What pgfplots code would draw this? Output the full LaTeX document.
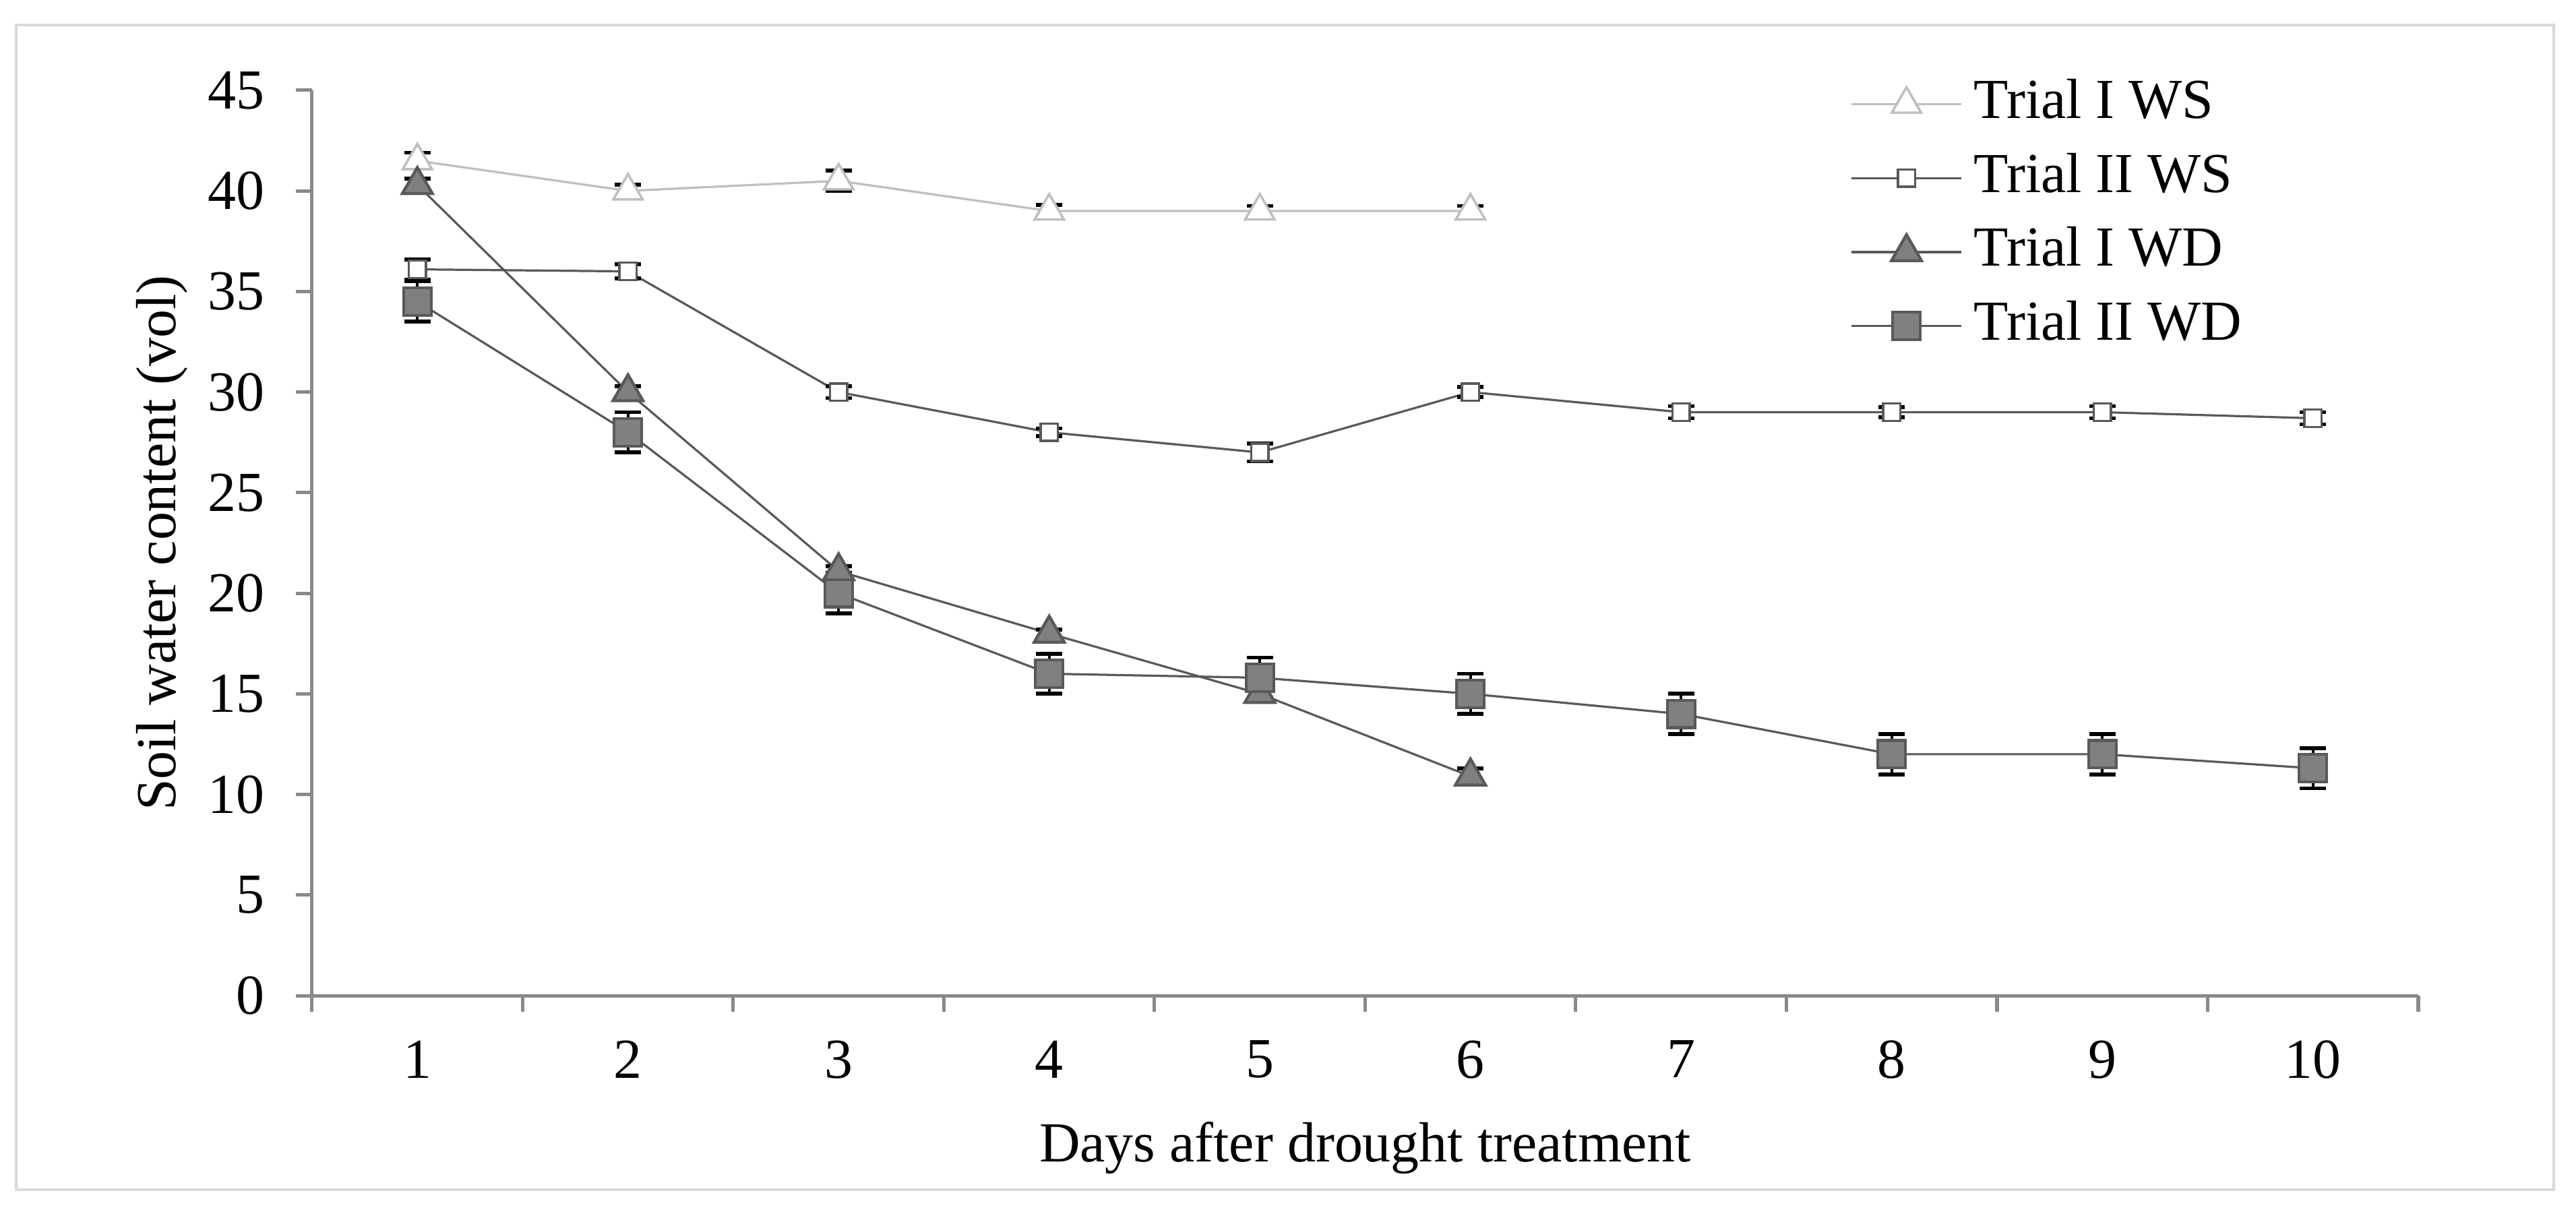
\documentclass[border=0pt]{standalone}
\usepackage{fontspec}
\setmainfont{Liberation Serif}
\usepackage{pgfplots}
\pgfplotsset{compat=1.18}

\definecolor{axisgray}{RGB}{137,137,137}
\definecolor{framegray}{RGB}{217,217,217}
\definecolor{lightline}{RGB}{191,191,191}
\definecolor{darkline}{RGB}{89,89,89}
\definecolor{markfill}{RGB}{128,128,128}

\newcommand{\chartfont}{\fontsize{11.7}{14}\selectfont}

\begin{document}
\begin{tikzpicture}
  \useasboundingbox (0,0) rectangle (533.05pt,251.05pt);
  \draw[framegray, line width=0.45pt] (3.35pt,4.88pt) rectangle (528.45pt,245.89pt);

  \begin{axis}[
      at={(64.57pt,45.05pt)}, anchor=south west,
      scale only axis,
      width=435.84pt, height=187.31pt,
      xmin=0.5, xmax=10.5, ymin=0, ymax=45,
      axis x line*=bottom, axis y line*=left,
      axis line style={axisgray, line width=0.7pt},
      tick align=outside,
      major tick length=3.3pt,
      tick style={axisgray, line width=0.7pt},
      xtick={0.5,1.5,...,10.5},
      xticklabels={1,2,3,4,5,6,7,8,9,10},
      x tick label as interval,
      ytick={0,5,...,45},
      /pgf/number format/assume math mode=true,
      tick label style={font=\chartfont, black},
      xticklabel style={yshift=-2.5pt},
      yticklabel style={xshift=-3pt},
      label style={font=\chartfont},
      xlabel={Days after drought treatment},
      ylabel={Soil water content (vol)},
      xlabel style={at={(axis description cs:0.5,-0.168)}, anchor=center},
      ylabel style={at={(axis description cs:-0.0714,0.5)}, anchor=center},
      clip=false,
      legend cell align=left,
      legend image code/.code={\draw[mark repeat=2,mark phase=2] plot coordinates {(0pt,0pt) (11.35pt,0pt) (22.7pt,0pt)};},
      legend style={at={(0.730,1.013)}, anchor=north west, draw=none, fill=none,
        font=\chartfont, row sep=5.1pt, column sep=2.4pt, inner sep=0pt,
        nodes={inner sep=0pt, text height=8pt, text depth=2.2pt}},
      error bars/y dir=both,
      error bars/y explicit,
      error bars/error bar style={black, line width=0.6pt},
      error bars/error mark options={black, line width=0.8pt, mark size=2.7pt, rotate=90},
    ]

    % Trial I WS
    \addplot[lightline, line width=0.45pt, mark=triangle*, mark size=3.5pt,
      mark options={fill=white, draw=lightline, line width=0.5pt}]
      coordinates {
        (1,41.5) +- (0,0.4)
        (2,40.0) +- (0,0.3)
        (3,40.5) +- (0,0.5)
        (4,39.0) +- (0,0.3)
        (5,39.0) +- (0,0.25)
        (6,39.0) +- (0,0.25)
      };
    \addlegendentry{Trial I WS}

    % Trial II WS
    \addplot[darkline, line width=0.45pt, mark=square*, mark size=1.8pt,
      mark options={fill=white, draw=darkline, line width=0.5pt}]
      coordinates {
        (1,36.1) +- (0,0.5)
        (2,36.0) +- (0,0.35)
        (3,30.0) +- (0,0.3)
        (4,28.0) +- (0,0.2)
        (5,27.0) +- (0,0.45)
        (6,30.0) +- (0,0.25)
        (7,29.0) +- (0,0.3)
        (8,29.0) +- (0,0.25)
        (9,29.0) +- (0,0.3)
        (10,28.7) +- (0,0.3)
      };
    \addlegendentry{Trial II WS}

    % Trial I WD
    \addplot[darkline, line width=0.45pt, mark=triangle*, mark size=3.6pt,
      mark options={fill=markfill, draw=darkline, line width=0.6pt}]
      coordinates {
        (1,40.3) +- (0,0.3)
        (2,30.0) +- (0,0.3)
        (3,21.1) +- (0,0.25)
        (4,18.0) +- (0,0.2)
        (5,15.0) +- (0,0.2)
        (6,10.9) +- (0,0.4)
      };
    \addlegendentry{Trial I WD}

    % Trial II WD
    \addplot[darkline, line width=0.45pt, mark=square*, mark size=2.85pt,
      mark options={fill=markfill, draw=darkline, line width=0.6pt}]
      coordinates {
        (1,34.5) +- (0,1.0)
        (2,28.0) +- (0,1.0)
        (3,20.0) +- (0,1.0)
        (4,16.0) +- (0,1.0)
        (5,15.8) +- (0,1.0)
        (6,15.0) +- (0,1.0)
        (7,14.0) +- (0,1.0)
        (8,12.0) +- (0,1.0)
        (9,12.0) +- (0,1.0)
        (10,11.3) +- (0,1.0)
      };
    \addlegendentry{Trial II WD}
  \end{axis}
\end{tikzpicture}
\end{document}
